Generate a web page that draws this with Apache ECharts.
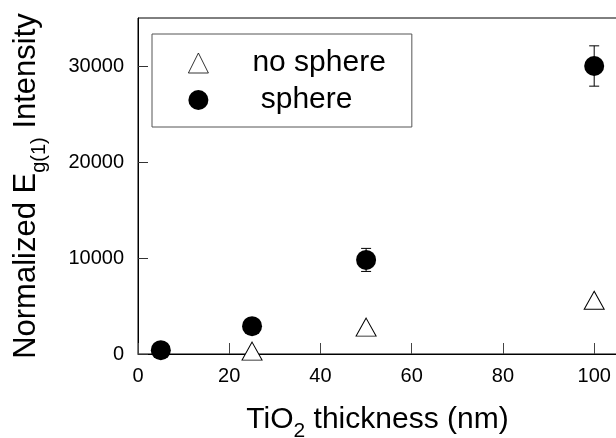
<!DOCTYPE html>
<html>
<head>
<meta charset="utf-8">
<script src="https://cdn.jsdelivr.net/npm/echarts@6/dist/echarts.min.js"></script>
<style>
  html, body { margin: 0; padding: 0; background: #fff; }
  #chart { width: 616px; height: 438px; }
</style>
</head>
<body>
<div id="chart"></div>
<script>
var FONT = 'Liberation Sans, Arial, Helvetica, sans-serif';

// data
var noSphereX = [25, 50, 100];
var noSphereY = [300, 2800, 5600];
var sphereX = [5, 25, 50, 100];
var sphereY = [400, 2900, 9800, 30000];
var sphereErr = [0, 0, 1200, 2100];
var xTicks = [0, 20, 40, 60, 80, 100];
var yTicks = [0, 10000, 20000, 30000];

var noSphereData = noSphereX.map(function (x, i) { return [x, noSphereY[i]]; });
var sphereData = sphereX.map(function (x, i) { return [x, sphereY[i]]; });
var errData = [];
sphereX.forEach(function (x, i) {
    if (sphereErr[i] > 0) errData.push([x, sphereY[i] - sphereErr[i], sphereY[i] + sphereErr[i]]);
});

var chart = echarts.init(document.getElementById('chart'));
var option = {
    backgroundColor: '#fff',
    animation: false,
    textStyle: { fontFamily: FONT, color: '#000' },
    grid: {
        left: 138, top: 18, right: -1, bottom: 84,
        outerBoundsMode: 'none',
        containLabel: false,
        show: true, borderColor: '#000', borderWidth: 1
    },
    legend: {
        orient: 'vertical',
        left: 152, top: 34,
        padding: [14, 26, 12, 36],
        itemGap: 7,
        itemWidth: 20, itemHeight: 20,
        borderColor: '#555', borderWidth: 1,
        backgroundColor: '#fff',
        data: [
            {
                name: 'no sphere', icon: 'triangle',
                itemStyle: { color: '#fff', borderColor: '#000', borderWidth: 0.8 }
            },
            { name: 'sphere', icon: 'circle' }
        ],
        formatter: function (name) {
            return '{t|' + (name === 'sphere' ? ' ' : '') + name + '}';
        },
        textStyle: {
            fontFamily: FONT, fontSize: 30, color: '#000', lineHeight: 30,
            rich: { t: { fontFamily: FONT, fontSize: 30, lineHeight: 30, padding: [0, 0, 0, 39] } }
        }
    },
    xAxis: {
        type: 'value',
        min: 0, max: 105, interval: 20,
        name: '{a|TiO}{s|2}{a| thickness (nm)}',
        nameLocation: 'middle',
        nameGap: 58,
        nameTextStyle: {
            fontFamily: FONT, fontSize: 30, color: '#000',
            rich: {
                a: { fontFamily: FONT, fontSize: 30, lineHeight: 30, verticalAlign: 'bottom', padding: [0, 0, 7, 0] },
                s: { fontFamily: FONT, fontSize: 21, lineHeight: 21, verticalAlign: 'bottom' }
            }
        },
        axisLine: { lineStyle: { color: '#000', width: 1 } },
        axisTick: { inside: true, length: 11, lineStyle: { color: '#444' } },
        axisLabel: {
            fontFamily: FONT, fontSize: 20, color: '#000', margin: 12,
            showMaxLabel: false,
            formatter: function (v) { return xTicks.indexOf(v) >= 0 ? String(v) : ''; }
        },
        splitLine: { show: false }
    },
    yAxis: {
        type: 'value',
        min: 0, max: 35000, interval: 10000,
        name: '{a|Normalized E}{s|g(1)}{a| Intensity}',
        nameLocation: 'middle',
        nameGap: 89,
        nameTextStyle: {
            fontFamily: FONT, fontSize: 30, color: '#000',
            rich: {
                a: { fontFamily: FONT, fontSize: 31, lineHeight: 30, verticalAlign: 'bottom', padding: [0, 0, 7, 0] },
                s: { fontFamily: FONT, fontSize: 20, lineHeight: 20, verticalAlign: 'bottom' }
            }
        },
        axisLine: { lineStyle: { color: '#000', width: 1 } },
        axisTick: { inside: true, length: 10, lineStyle: { color: '#333' } },
        axisLabel: {
            fontFamily: FONT, fontSize: 20, color: '#000', margin: 14,
            showMaxLabel: false,
            formatter: function (v) { return yTicks.indexOf(v) >= 0 ? String(v) : ''; }
        },
        splitLine: { show: false }
    },
    series: [
        {
            name: 'errors',
            type: 'custom',
            data: errData,
            z: 1,
            silent: true,
            renderItem: function (params, api) {
                var x = api.value(0);
                var lo = api.coord([x, api.value(1)]);
                var hi = api.coord([x, api.value(2)]);
                var w = 5;
                var st = { stroke: '#000', lineWidth: 1 };
                return {
                    type: 'group',
                    children: [
                        { type: 'line', shape: { x1: lo[0], y1: lo[1], x2: hi[0], y2: hi[1] }, style: st },
                        { type: 'line', shape: { x1: lo[0] - w, y1: lo[1], x2: lo[0] + w, y2: lo[1] }, style: st },
                        { type: 'line', shape: { x1: hi[0] - w, y1: hi[1], x2: hi[0] + w, y2: hi[1] }, style: st }
                    ]
                };
            }
        },
        {
            name: 'no sphere',
            type: 'scatter',
            symbol: 'triangle',
            symbolSize: [20, 18],
            data: noSphereData,
            z: 3,
            itemStyle: { color: '#fff', borderColor: '#000', borderWidth: 1, opacity: 1 }
        },
        {
            name: 'sphere',
            type: 'scatter',
            symbol: 'circle',
            symbolSize: 20,
            data: sphereData,
            z: 3,
            itemStyle: { color: '#000', opacity: 1 }
        }
    ]
};
chart.setOption(option);
</script>
</body>
</html>
